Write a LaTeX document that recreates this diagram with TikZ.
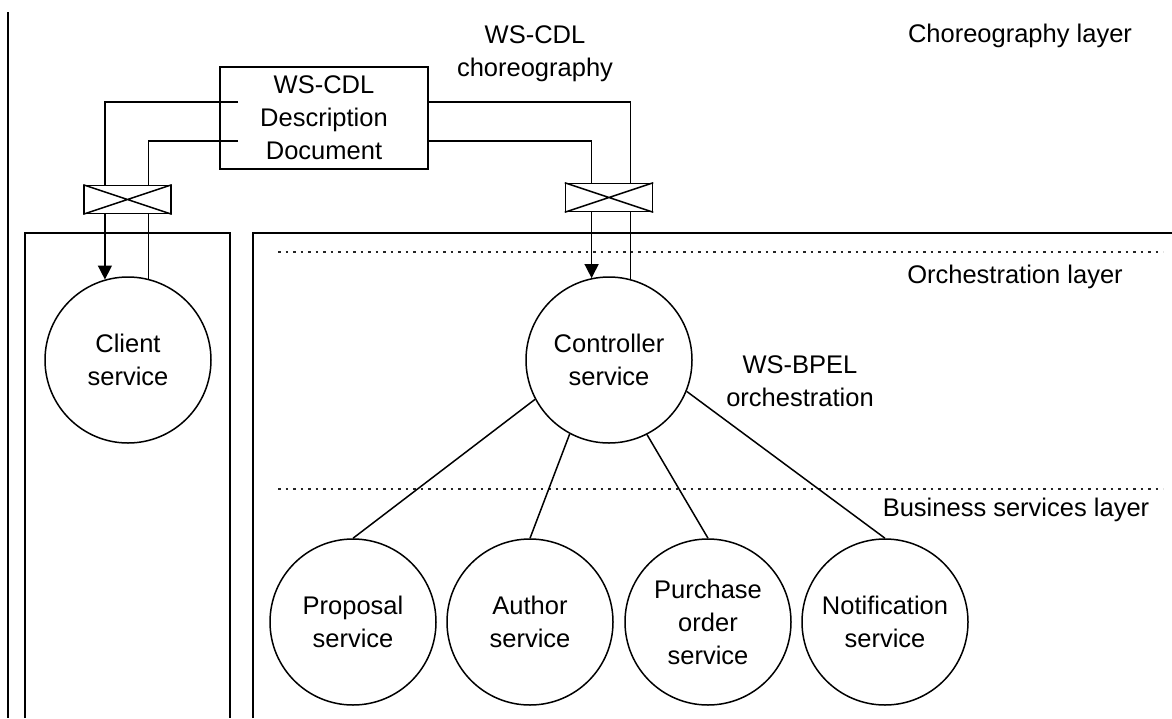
\documentclass[tikz,border=0pt]{standalone}
\usepackage{fontspec}
\setmainfont{Liberation Sans}
\usetikzlibrary{arrows.meta}
\begin{document}
\begin{tikzpicture}[x=1pt,y=-1pt,
  every node/.style={font=\fontsize{25.5}{33}\selectfont, align=center, inner sep=0pt},
  ln/.style={line width=1.5pt, draw=black},
  svc/.style={circle, ln, minimum size=166pt},
  xbox/.style={rectangle, ln, fill=white, minimum width=87pt, minimum height=28pt},
  arr/.style={ln, -{Triangle[width=14pt,length=14pt]}},
  dotline/.style={line width=1.4pt, dash pattern=on 2.5pt off 5pt, draw=black!85},
  lbl/.style={}]
\useasboundingbox (0,0) rectangle (1172,718);

% frame lines
\draw[ln] (8,12) -- (8,718);
\draw[ln] (25,718) -- (25,233) -- (230,233) -- (230,718);
\draw[ln] (253,718) -- (253,233) -- (1172,233);
\draw[dotline] (278,252) -- (1163,252);
\draw[dotline] (278,489) -- (1163,489);

% description document
\node[rectangle, ln, minimum width=208pt, minimum height=102pt] (desc) at (324,118) {WS-CDL\\Description\\Document};

% services
\node[svc] (client) at (128,360) {Client\\service};
\node[svc] (ctrl) at (609,360) {Controller\\service};
\node[svc] (prop) at (353,622) {Proposal\\service};
\node[svc] (auth) at (530,622) {Author\\service};
\node[svc] (purch) at (708,622) {Purchase\\order\\service};
\node[svc] (notif) at (885,622) {Notification\\service};

% connector start points
\coordinate (l1) at (238,102);
\coordinate (l2) at (238,141);
\coordinate (r1) at (desc.east |- 0,102);
\coordinate (r2) at (desc.east |- 0,141);

\draw[arr] (l1) -| (client.106.8);
\draw[ln] (l2) -| (client.76);
\draw[ln] (r1) -| (ctrl.75.7);
\draw[arr] (r2) -| (ctrl.102.2);

% cross boxes
\node[xbox] (xl) at (127.5,199.5) {};
\draw[ln] (xl.north west) -- (xl.south east) (xl.south west) -- (xl.north east);
\node[xbox] (xr) at (609,197.5) {};
\draw[ln] (xr.north west) -- (xr.south east) (xr.south west) -- (xr.north east);

% orchestration links
\draw[ln] (ctrl.208) -- (prop.north);
\draw[ln] (ctrl.242) -- (auth.north);
\draw[ln] (ctrl.297) -- (purch.north);
\draw[ln] (ctrl.338) -- (notif.north);

% labels
\node[lbl] (chorlbl) at (535,54) {WS-CDL\\choreography};
\node[lbl] (chorlayer) at (1020,36) {Choreography layer};
\node[lbl] (orchlayer) at (1015,277) {Orchestration layer};
\node[lbl] (bpel) at (800,381) {WS-BPEL\\orchestration};
\node[lbl] (buslayer) at (1016,510) {Business services layer};
\end{tikzpicture}
\end{document}
